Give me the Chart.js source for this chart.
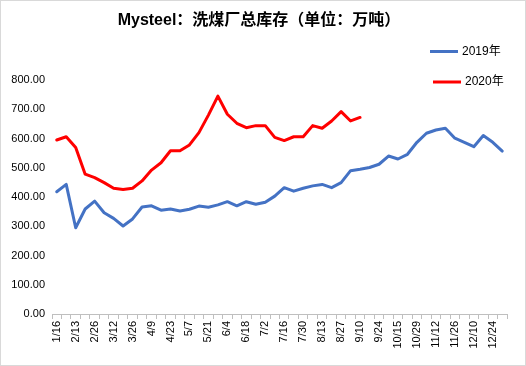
<!DOCTYPE html>
<html>
<head>
<meta charset="utf-8">
<script src="https://cdn.jsdelivr.net/npm/chart.js@4/dist/chart.umd.min.js"></script>
<style>
html,body{margin:0;padding:0;background:#fff;}
canvas{display:block;}
</style>
</head>
<body>
<canvas id="c" width="526" height="366"></canvas>
<script>
const titleText = "Mysteel：洗煤厂总库存（单位：万吨）";
const categories = ["1/16","1/23","2/13","2/20","2/26","3/5","3/12","3/19","3/26","4/2","4/9","4/16","4/23","4/30","5/7","5/14","5/21","5/28","6/4","6/11","6/18","6/25","7/2","7/9","7/16","7/23","7/30","8/6","8/13","8/20","8/27","9/3","9/10","9/17","9/24","10/8","10/15","10/22","10/29","11/5","11/12","11/19","11/26","12/3","12/10","12/17","12/24","12/31"];
const seriesNames = ["2019年","2020年"];
const values2019 = [418,443,295,359,386,346,327,301,325,366,370,355,359,352,358,369,365,373,384,370,384,375,382,403,432,420,430,438,443,432,449,490,495,501,512,540,530,546,587,618,629,635,601,587,572,610,587,557];
const values2020 = [595,606,569,478,466,449,430,426,430,455,492,517,558,558,578,620,680,745,683,652,637,644,644,604,593,606,606,644,635,660,692,660,672];
const yTicks = [0,100,200,300,400,500,600,700,800];

const FONT = "'Liberation Sans', Arial, 'Noto Sans CJK SC', sans-serif";
const colors = ["#4472C4", "#FF0000"];

const decor = {
  id: 'decor',
  beforeDraw(chart) {
    const ctx = chart.ctx;
    ctx.save();
    ctx.fillStyle = '#fff';
    ctx.fillRect(0, 0, chart.width, chart.height);
    ctx.restore();
  },
  afterDraw(chart) {
    const ctx = chart.ctx;
    ctx.save();
    ctx.strokeStyle = '#d9d9d9';
    ctx.lineWidth = 1;
    ctx.strokeRect(0.5, 0.5, chart.width - 1, chart.height - 1);
    // title
    ctx.fillStyle = '#000';
    ctx.font = "bold 16px 'Liberation Sans', Arial, 'Noto Sans CJK SC', sans-serif";
    ctx.textAlign = 'center';
    ctx.textBaseline = 'middle';
    ctx.fillText(titleText, 259, 21);
    // legend
    const items = [{y: 51.5, x0: 430}, {y: 82, x0: 433}];
    ctx.font = "12px " + FONT;
    ctx.textAlign = 'left';
    items.forEach((it, i) => {
      ctx.strokeStyle = colors[i];
      ctx.lineWidth = 3;
      ctx.beginPath();
      ctx.moveTo(it.x0, it.y);
      ctx.lineTo(it.x0 + 28, it.y);
      ctx.stroke();
      ctx.fillStyle = '#000';
      ctx.fillText(seriesNames[i], it.x0 + 32, it.y);
    });
    ctx.restore();
  }
};

new Chart(document.getElementById('c'), {
  type: 'line',
  data: {
    labels: categories,
    datasets: [
      {label: seriesNames[0], data: values2019, borderColor: colors[0], backgroundColor: colors[0], borderWidth: 3, pointRadius: 0, tension: 0, borderJoinStyle: 'round', borderCapStyle: 'round'},
      {label: seriesNames[1], data: values2020, borderColor: colors[1], backgroundColor: colors[1], borderWidth: 3, pointRadius: 0, tension: 0, borderJoinStyle: 'round', borderCapStyle: 'round'}
    ]
  },
  options: {
    responsive: false,
    animation: false,
    devicePixelRatio: 1,
    layout: {padding: {left: 0, right: 19, top: 80, bottom: 0}},
    plugins: {legend: {display: false}, title: {display: false}, tooltip: {enabled: false}},
    scales: {
      x: {
        offset: true,
        grid: {display: true, offset: true, drawOnChartArea: false, drawTicks: true, tickLength: 5, color: '#bfbfbf'},
        border: {display: true, color: '#bfbfbf'},
        ticks: {
          autoSkip: false, minRotation: 90, maxRotation: 90, padding: 2,
          color: '#000', font: {size: 11, family: FONT},
          callback: (v, i) => (i % 2 === 0 ? categories[i] : '')
        },
        afterFit: s => { s.height = 52; }
      },
      y: {
        min: 0, max: 800,
        grid: {display: false, drawTicks: false},
        border: {display: false},
        afterBuildTicks: s => { s.ticks = yTicks.map(v => ({value: v})); },
        ticks: {padding: 7, color: '#000', font: {size: 11, family: FONT}, callback: v => v.toFixed(2)},
        afterFit: s => { s.width = 52; }
      }
    }
  },
  plugins: [decor]
});
</script>
</body>
</html>
